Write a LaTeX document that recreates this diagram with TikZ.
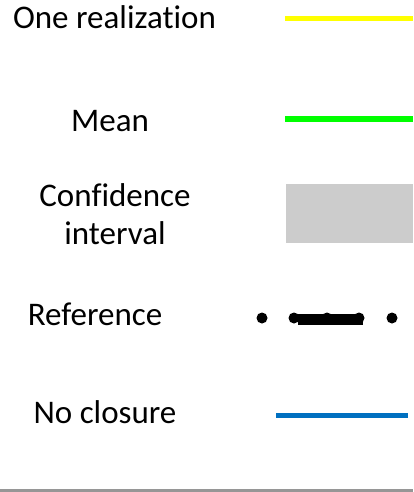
\documentclass[tikz,border=0pt]{standalone}
\usepackage{xcolor}
\usepackage{fontspec}
\setmainfont{Carlito}[Ligatures=NoCommon]
\definecolor{realyellow}{RGB}{255,255,0}
\definecolor{meangreen}{RGB}{0,255,0}
\definecolor{cigray}{RGB}{204,204,204}
\definecolor{noclosureblue}{RGB}{0,112,192}
\definecolor{framegray}{RGB}{150,150,150}
\begin{document}
\begin{tikzpicture}[x=1pt, y=-1pt,
    legendtext/.style={anchor=base, inner sep=0pt, font=\fontsize{33}{38}\selectfont},
    sample/.style={line width=5pt}]
              \useasboundingbox (0,0) rectangle (413,492);
              \fill[white] (0,0) rectangle (413,492);
              % labels
              \node[legendtext] (realization) at (114.5,29) {One realization};
              \node[legendtext] (mean) at (110,131.5) {Mean};
              \node[legendtext, align=center] (confidence) at (115,244) {Confidence\\interval};
              \node[legendtext] (reference) at (95,325) {Reference};
              \node[legendtext] (noclosure) at (105,423) {No closure};
              % samples
              \draw[sample, realyellow] (285,19) -- (413,19);
              \draw[sample, meangreen] (285,119) -- (413,119);
              \fill[cigray] (286,184) rectangle (413,243);
              \fill[black] (298,314) rectangle (363,325);
              \foreach \x in {262,294,327,359,392}
                \fill[black] (\x,318) circle (5.5pt);
              \draw[sample, noclosureblue] (276,415) -- (408,415);
              \draw[framegray, line width=3pt] (0,490.5) -- (413,490.5);
          \end{tikzpicture}
\end{document}
